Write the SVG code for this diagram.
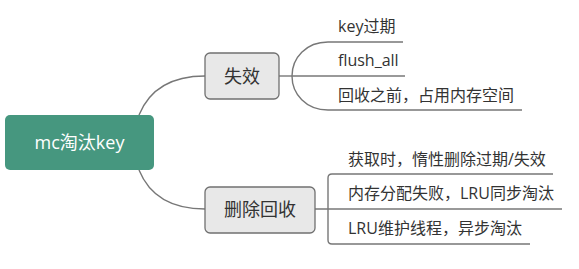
<svg xmlns="http://www.w3.org/2000/svg" width="579" height="269" viewBox="0 0 579 269">
<style>
.node{fill:#e8e8e8;stroke:#707070;stroke-width:1.3}
.root{fill:#46977f}
.c{fill:none;stroke:#777;stroke-width:1.4}
text{font-family:"Open Sans","Noto Sans CJK SC",sans-serif}
.t1{font-size:18px;fill:#333;text-anchor:middle}
.rt{font-size:18px;fill:#fff;text-anchor:middle}
.lf{font-size:16px;fill:#333}
</style>
<rect width="579" height="269" fill="#fff"/>
<g id="connectors">
<path class="c" d="M139,115 C150,88 172,76 205,76"/>
<path class="c" d="M139,170 C150,197 172,209 205,209"/>
<path class="c" d="M279,76 H292"/>
<path class="c" d="M292,76 C292,58 306,42 328,42 H403"/>
<path class="c" d="M292,76 H405"/>
<path class="c" d="M292,76 C292,94 306,110 328,110 H522"/>
<path class="c" d="M315,209 H562"/>
<path class="c" d="M553,174 H332 Q328,174 328,178 V240 Q328,244 332,244 H530"/>
</g>
<g id="root">
<rect class="root" x="5" y="115" width="149" height="55" rx="5"/>
<text class="rt" x="79.5" y="149">mc淘汰key</text>
</g>
<g id="n1">
<rect class="node" x="205" y="53" width="74" height="46" rx="5"/>
<text class="t1" x="242" y="83">失效</text>
</g>
<g id="n2">
<rect class="node" x="205" y="187" width="110" height="46" rx="5"/>
<text class="t1" x="260" y="216">删除回收</text>
</g>
<g id="l1"><text class="lf" x="338" y="32">key过期</text></g>
<g id="l2"><text class="lf" x="338" y="66">flush_all</text></g>
<g id="l3"><text class="lf" x="338" y="101">回收之前，占用内存空间</text></g>
<g id="l4"><text class="lf" x="348" y="165">获取时，惰性删除过期/失效</text></g>
<g id="l5"><text class="lf" x="348" y="199">内存分配失败，LRU同步淘汰</text></g>
<g id="l6"><text class="lf" x="348" y="234">LRU维护线程，异步淘汰</text></g>
</svg>
